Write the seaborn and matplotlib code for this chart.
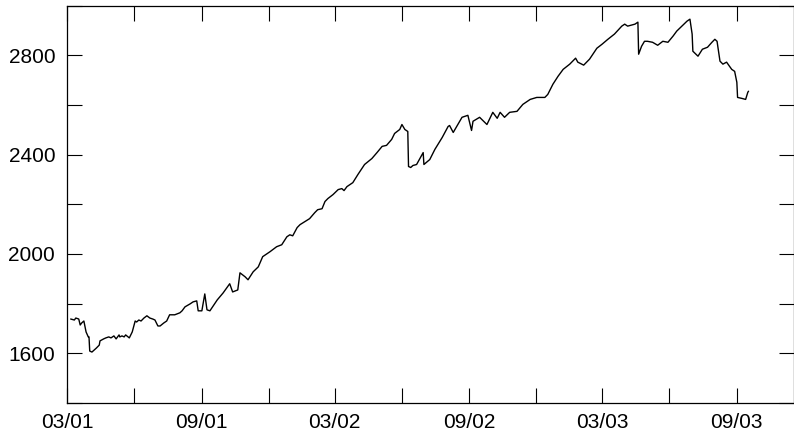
import numpy as np
import matplotlib
matplotlib.use("Agg")
import matplotlib.pyplot as plt
import matplotlib.dates as mdates
from matplotlib.ticker import MultipleLocator, FuncFormatter
import seaborn as sns
import pandas as pd

# series: days after 2001-03-01 and index level
start = "2001-03-01"
days = [5, 10, 12, 16, 18, 20, 23, 26, 29, 30, 31, 34, 37, 40, 44, 45, 50, 53, 57, 60,
        64, 67, 71, 72, 75, 78, 80, 85, 89, 93, 95, 98, 101, 105, 109, 113, 117, 120, 124, 127,
        132, 136, 140, 147, 154, 157, 161, 168, 172, 177, 179, 184, 188, 191, 195, 205, 213, 222, 226, 233,
        236, 243, 247, 254, 261, 267, 277, 286, 293, 300, 304, 308, 314, 318, 331, 338, 342, 348, 352, 356,
        363, 370, 375, 378, 382, 386, 390, 397, 406, 416, 423, 430, 436, 443, 447, 454, 457, 461, 465, 466,
        469, 472, 477, 486, 487, 495, 502, 512, 520, 522, 527, 539, 547, 552, 554, 563, 573, 581, 587, 591,
        597, 604, 614, 622, 632, 641, 652, 656, 663, 670, 677, 686, 694, 697, 705, 713, 723, 730, 738, 747,
        757, 761, 765, 775, 779, 780, 784, 788, 792, 799, 806, 813, 820, 827, 832, 839, 846, 850, 853, 854,
        861, 867, 874, 880, 884, 887, 891, 895, 900, 907, 911, 914, 915, 921, 926, 929, 930]
level = [1738, 1734, 1742, 1738, 1714, 1722, 1730, 1686, 1666, 1666, 1609, 1605, 1613, 1621, 1633, 1650, 1658, 1662, 1666, 1662,
         1670, 1658, 1674, 1666, 1670, 1666, 1674, 1662, 1686, 1730, 1726, 1734, 1730, 1742, 1751, 1742, 1738, 1734, 1710, 1710,
         1722, 1730, 1755, 1755, 1763, 1771, 1787, 1799, 1807, 1811, 1771, 1771, 1839, 1775, 1771, 1815, 1843, 1880, 1847, 1855,
         1924, 1908, 1896, 1928, 1948, 1989, 2009, 2029, 2037, 2069, 2077, 2073, 2106, 2118, 2142, 2166, 2178, 2182, 2211, 2223,
         2239, 2259, 2263, 2255, 2271, 2279, 2287, 2320, 2360, 2384, 2408, 2433, 2437, 2461, 2485, 2501, 2521, 2501, 2493, 2352,
         2348, 2356, 2360, 2408, 2360, 2380, 2421, 2469, 2513, 2517, 2489, 2550, 2558, 2497, 2534, 2550, 2521, 2570, 2546, 2570,
         2550, 2570, 2574, 2602, 2622, 2630, 2630, 2642, 2683, 2715, 2743, 2764, 2788, 2772, 2760, 2784, 2828, 2844, 2864, 2885,
         2917, 2925, 2917, 2925, 2933, 2804, 2836, 2856, 2856, 2852, 2840, 2856, 2852, 2877, 2897, 2917, 2937, 2945, 2885, 2816,
         2796, 2824, 2832, 2852, 2864, 2856, 2776, 2764, 2772, 2743, 2735, 2691, 2630, 2626, 2622, 2651, 2655]

df = pd.DataFrame({
    "date": pd.Timestamp(start) + pd.to_timedelta(days, unit="D"),
    "level": level,
})

sns.set_style("ticks")
plt.rcParams["font.family"] = ["Liberation Sans", "DejaVu Sans"]

fig = plt.figure(figsize=(7.94, 4.41), dpi=100)
ax = fig.add_axes([0.0844, 0.0862, 0.9156, 0.9013])

sns.lineplot(data=df, x="date", y="level", color="black", linewidth=1.0, ax=ax)

ax.set_xlim(pd.Timestamp("2001-03-01"), pd.Timestamp("2003-11-18"))
ax.set_ylim(1400, 3000)

ax.xaxis.set_major_locator(mdates.MonthLocator(bymonth=[3, 9]))
ax.xaxis.set_minor_locator(mdates.MonthLocator(bymonth=[6, 12]))
ax.xaxis.set_major_formatter(mdates.DateFormatter("%m/%y"))
ax.yaxis.set_major_locator(MultipleLocator(400))
ax.yaxis.set_minor_locator(MultipleLocator(200))
ax.yaxis.set_major_formatter(FuncFormatter(lambda v, p: f"{v:.0f}"))

for which in ("major", "minor"):
    ax.tick_params(axis="both", which=which, direction="in", length=11, width=0.8,
                   top=True, right=True, color="black")
ax.tick_params(axis="y", which="major", labelsize=15, pad=8.5, labelcolor="black")
ax.tick_params(axis="x", which="major", labelsize=15, pad=7, labelcolor="black")

for s in ax.spines.values():
    s.set_linewidth(0.9)
    s.set_color("black")

ax.set_xlabel("")
ax.set_ylabel("")

fig.savefig("out.png", dpi=100)
